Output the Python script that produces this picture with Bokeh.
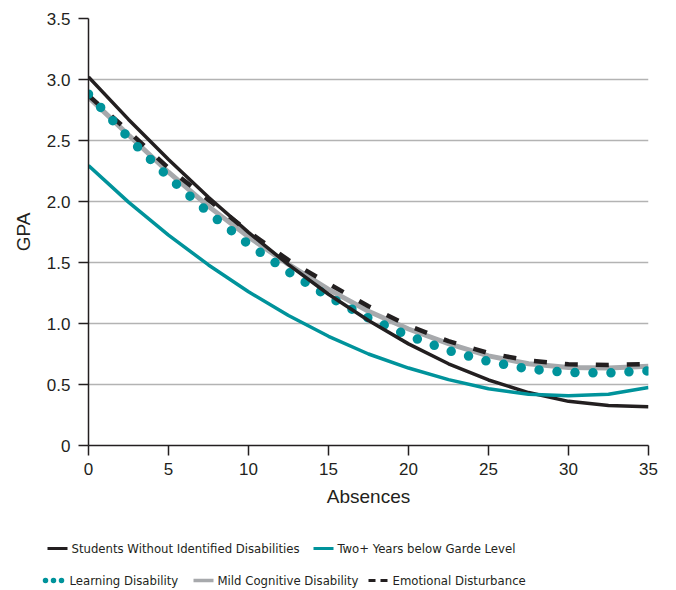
from bokeh.plotting import figure
from bokeh.models import Range1d, FixedTicker
from bokeh.core.properties import value
from bokeh.embed import file_html
from bokeh.resources import INLINE

# ---- data ----
absences = [0, 2.5, 5, 7.5, 10, 12.5, 15, 17.5, 20, 22.5, 25, 27.5, 30, 32.5, 35]
no_disability = [3.02, 2.673, 2.344, 2.035, 1.747, 1.482, 1.240, 1.024, 0.833, 0.670, 0.537, 0.434, 0.362, 0.328, 0.317]
two_plus_below = [2.295, 1.995, 1.725, 1.48, 1.26, 1.065, 0.895, 0.75, 0.635, 0.54, 0.465, 0.42, 0.407, 0.42, 0.475]
learning_disability = [2.88, 2.522, 2.20, 1.909, 1.650, 1.423, 1.220, 1.045, 0.899, 0.778, 0.688, 0.627, 0.598, 0.595, 0.612]
mild_cognitive = [2.855, 2.545, 2.24, 1.96, 1.71, 1.485, 1.28, 1.10, 0.955, 0.835, 0.735, 0.67, 0.64, 0.635, 0.65]
emotional_disturbance = [2.87, 2.575, 2.274, 2.013, 1.753, 1.519, 1.326, 1.142, 0.983, 0.855, 0.758, 0.696, 0.666, 0.659, 0.668]

x_ticks = [0, 5, 10, 15, 20, 25, 30, 35]
y_ticks = [0, 0.5, 1, 1.5, 2, 2.5, 3, 3.5]
y_tick_labels = ["0", "0.5", "1.0", "1.5", "2.0", "2.5", "3.0", "3.5"]

series_labels = ["Students Without Identified Disabilities", "Two+ Years below Garde Level",
                 "Learning Disability", "Mild Cognitive Disability", "Emotional Disturbance"]

BLACK = "#231f20"
TEAL = "#00939b"
GRAY = "#a7a9ac"
TXT = "#231f20"
TICK_FONT = "Liberation Sans"
LEG_FONT = "DejaVu Sans Condensed"

p = figure(frame_width=560, frame_height=427,
           x_range=Range1d(0, 35), y_range=Range1d(0, 3.5),
           output_backend="svg", toolbar_location=None,
           min_border_left=88, min_border_right=20, min_border_top=18, min_border_bottom=75,
           background_fill_color="white", border_fill_color="white")
p.outline_line_color = None

# curves
p.line(absences, mild_cognitive, line_color=GRAY, line_width=5)
p.line(absences, emotional_disturbance, line_color=BLACK, line_width=4.5, line_dash="13 18")
p.line(absences, learning_disability, line_color=TEAL, line_width=9.5, line_dash="0 18", line_cap="round")
p.line(absences, no_disability, line_color=BLACK, line_width=3.5)
p.line(absences, two_plus_below, line_color=TEAL, line_width=3.5)

# axes
for ax in (p.xaxis[0], p.yaxis[0]):
    ax.axis_line_color = BLACK
    ax.axis_line_width = 1.5
    ax.major_tick_line_color = BLACK
    ax.major_tick_line_width = 1.5
    ax.major_tick_out = 10
    ax.major_tick_in = 0
    ax.minor_tick_line_color = None
    ax.major_label_text_font = TICK_FONT
    ax.major_label_text_font_size = "17px"
    ax.major_label_text_color = TXT
    ax.axis_label_text_font = TICK_FONT
    ax.axis_label_text_font_size = "19px"
    ax.axis_label_text_font_style = "normal"
    ax.axis_label_text_color = TXT

p.xaxis.ticker = FixedTicker(ticks=x_ticks)
p.yaxis.ticker = FixedTicker(ticks=y_ticks)
p.yaxis.major_label_overrides = {t: s for t, s in zip(y_ticks, y_tick_labels)}
p.xaxis.axis_label = "Absences"
p.yaxis.axis_label = "GPA"
p.xaxis.major_label_standoff = 7
p.yaxis.major_label_standoff = 8
p.xaxis.axis_label_standoff = 8
p.yaxis.axis_label_standoff = 10

p.xgrid.visible = False
p.ygrid.ticker = FixedTicker(ticks=y_ticks)
p.ygrid.grid_line_color = "#b3b3b3"
p.ygrid.grid_line_width = 1.3

# ---- legend strip: a separate pixel-space figure (own root) below the chart ----
LW, LH = 668, 70
lf = figure(width=LW, height=LH, x_range=Range1d(0, LW), y_range=Range1d(LH, 0),
            output_backend="svg", toolbar_location=None,
            x_axis_location=None, y_axis_location=None,
            min_border_left=0, min_border_right=0, min_border_top=0, min_border_bottom=0,
            background_fill_color="white", border_fill_color="white")
lf.outline_line_color = None
lf.grid.visible = False

# legend layout (pixel positions within the strip)
leg_x0 = [47, 313, 45, 193, 368]
leg_y = [28, 28, 60, 60, 60]
leg_styles = [
    dict(line_color=BLACK, line_width=3),
    dict(line_color=TEAL, line_width=3),
    dict(line_color=TEAL, line_width=5.5, line_dash="0 8", line_cap="round"),
    dict(line_color=GRAY, line_width=3.5),
    dict(line_color=BLACK, line_width=3, line_dash="7 5"),
]
for x0, y0, st in zip(leg_x0, leg_y, leg_styles):
    lf.line([x0, x0 + 20], [y0, y0], **st)

lf.text(x=[x0 + 24 for x0 in leg_x0], y=leg_y, text=series_labels,
        text_font=value(LEG_FONT), text_font_size="13px", text_color=TXT,
        text_align="left", text_baseline="middle")

open("out.html", "w").write(file_html([p, lf], INLINE))
